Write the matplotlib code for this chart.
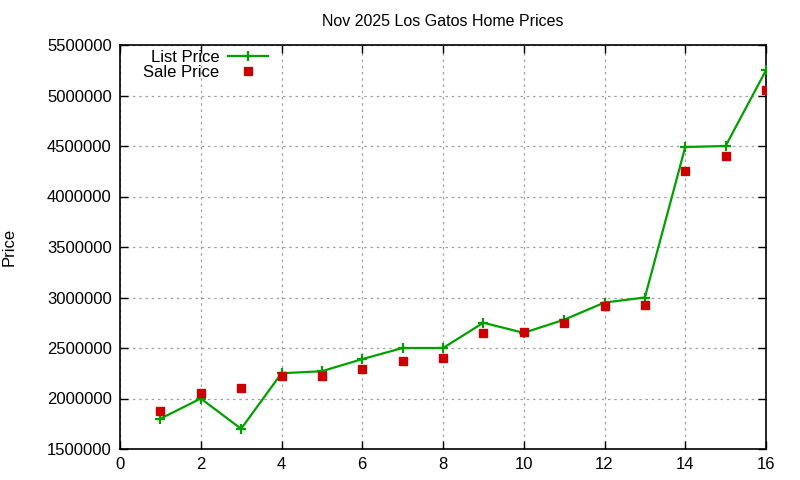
import matplotlib
matplotlib.use("Agg")
import matplotlib.pyplot as plt

x = list(range(1, 17))
list_price = [1800000, 2000000, 1700000, 2250000, 2270000, 2390000, 2500000, 2500000,
              2750000, 2650000, 2780000, 2950000, 3000000, 4490000, 4500000, 5250000]
sale_price = [1880000, 2055000, 2105000, 2225000, 2225000, 2295000, 2375000, 2405000,
              2650000, 2660000, 2745000, 2920000, 2930000, 4255000, 4405000, 5055000]
xticks = list(range(0, 17, 2))
yticks = list(range(1500000, 5500001, 500000))

plt.rcParams['font.family'] = ['Liberation Sans', 'DejaVu Sans']
fig = plt.figure(figsize=(8, 4.8), dpi=100)
ax = fig.add_axes([120/800, 1-449/480, (766-120)/800, (449-45)/480])

ax.plot(x, list_price, color='#00a000', lw=1.6, marker='+', markersize=7,
        markeredgewidth=1.6, label='List Price', zorder=3)
ax.plot(x, sale_price, color='#cc0000', lw=0, marker='s', markersize=6,
        label='Sale Price', zorder=4)

ax.set_xlim(0, 16)
ax.set_ylim(1500000, 5500000)
ax.set_xticks(xticks)
ax.set_yticks(yticks)
ax.set_xticklabels([str(t) for t in xticks])
ax.set_yticklabels([str(t) for t in yticks])
ax.tick_params(direction='in', length=6, width=1, top=True, right=True,
               labelsize=12, colors='black', pad=6)
ax.grid(True, color='#a0a0a0', linestyle=(0, (2, 3)), lw=0.9)
for s in ax.spines.values():
    s.set_linewidth(1.2)

ax.set_title('Nov 2025 Los Gatos Home Prices', fontsize=11.5, pad=14)
ax.set_ylabel('Price', fontsize=12, labelpad=22)

leg = ax.legend(loc='upper left', bbox_to_anchor=(0.028, 1.0), frameon=False,
                markerfirst=False, fontsize=12, handlelength=2.4,
                borderaxespad=0.1, labelspacing=0.0, handletextpad=0.5,
                borderpad=0.2)
for t in leg.get_texts():
    t.set_ha('right')
leg._legend_box.align = 'right'

fig.savefig('out.png', dpi=100)
